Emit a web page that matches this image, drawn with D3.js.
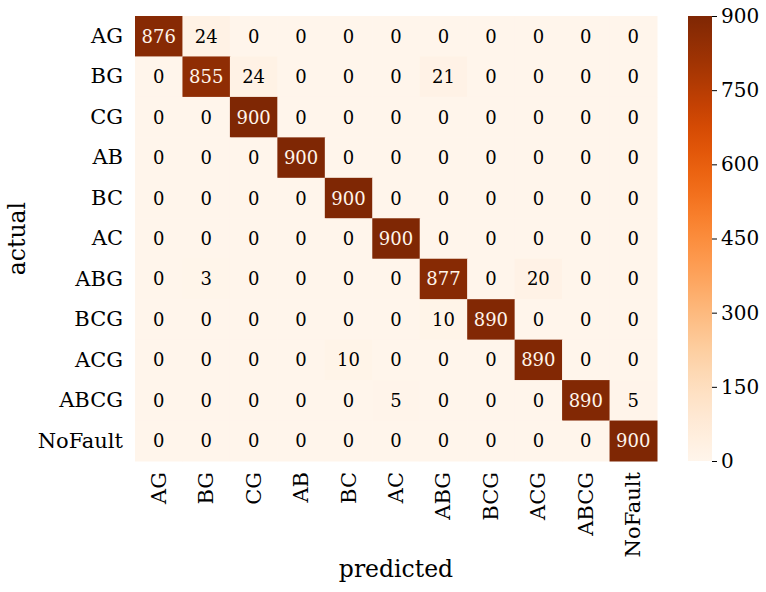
<!DOCTYPE html>
<html>
<head>
<meta charset="utf-8">
<script src="https://cdn.jsdelivr.net/npm/d3@7"></script>
<style>
  html, body { margin: 0; padding: 0; background: #fff; }
  svg text { font-family: "DejaVu Serif", serif; }
</style>
</head>
<body>
<svg id="chart" width="766" height="592"></svg>
<script>
// Fault classes (rows = actual, columns = predicted)
const classes = ["AG", "BG", "CG", "AB", "BC", "AC", "ABG", "BCG", "ACG", "ABCG", "NoFault"];

// Confusion matrix counts, one row per actual class
const rowAG      = [876, 24, 0, 0, 0, 0, 0, 0, 0, 0, 0];
const rowBG      = [0, 855, 24, 0, 0, 0, 21, 0, 0, 0, 0];
const rowCG      = [0, 0, 900, 0, 0, 0, 0, 0, 0, 0, 0];
const rowAB      = [0, 0, 0, 900, 0, 0, 0, 0, 0, 0, 0];
const rowBC      = [0, 0, 0, 0, 900, 0, 0, 0, 0, 0, 0];
const rowAC      = [0, 0, 0, 0, 0, 900, 0, 0, 0, 0, 0];
const rowABG     = [0, 3, 0, 0, 0, 0, 877, 0, 20, 0, 0];
const rowBCG     = [0, 0, 0, 0, 0, 0, 10, 890, 0, 0, 0];
const rowACG     = [0, 0, 0, 0, 10, 0, 0, 0, 890, 0, 0];
const rowABCG    = [0, 0, 0, 0, 0, 5, 0, 0, 0, 890, 5];
const rowNoFault = [0, 0, 0, 0, 0, 0, 0, 0, 0, 0, 900];

const matrix = [rowAG, rowBG, rowCG, rowAB, rowBC, rowAC, rowABG, rowBCG, rowACG, rowABCG, rowNoFault];

// Colorbar ticks
const colorbarTicks = [0, 150, 300, 450, 600, 750, 900];

const svg = d3.select("#chart");

const plot = { left: 135, top: 16, width: 522, height: 445 };
const cbar = { left: 688, top: 16, width: 24, height: 445 };

const x = d3.scaleBand().domain(classes).range([plot.left, plot.left + plot.width]);
const y = d3.scaleBand().domain(classes).range([plot.top, plot.top + plot.height]);
const color = d3.scaleSequential(d3.interpolateOranges).domain([0, 900]);

const cells = [];
matrix.forEach((row, i) => row.forEach((v, j) => cells.push({ actual: classes[i], predicted: classes[j], value: v })));

svg.append("g").selectAll("rect")
  .data(cells)
  .join("rect")
  .attr("x", d => x(d.predicted))
  .attr("y", d => y(d.actual))
  .attr("width", x.bandwidth() + 0.5)
  .attr("height", y.bandwidth() + 0.5)
  .attr("fill", d => color(d.value));

svg.append("g").selectAll("text")
  .data(cells)
  .join("text")
  .attr("x", d => x(d.predicted) + x.bandwidth() / 2)
  .attr("y", d => y(d.actual) + y.bandwidth() / 2)
  .attr("text-anchor", "middle")
  .attr("dominant-baseline", "central")
  .attr("font-size", 18)
  .attr("fill", d => d.value > 450 ? "#fff5eb" : "#000")
  .text(d => d.value);

// Axes
const yAxis = d3.axisLeft(y).tickSize(0).tickPadding(12);
const gy = svg.append("g").attr("transform", `translate(${plot.left},0)`).call(yAxis);
gy.select(".domain").remove();
gy.selectAll("text").attr("font-size", 21).attr("font-family", "DejaVu Serif").attr("fill", "#000");

const xAxis = d3.axisBottom(x).tickSize(0).tickPadding(0);
const gx = svg.append("g").attr("transform", `translate(0,${plot.top + plot.height})`).call(xAxis);
gx.select(".domain").remove();
gx.selectAll("text")
  .attr("font-size", 21).attr("font-family", "DejaVu Serif").attr("fill", "#000")
  .attr("text-anchor", "end")
  .attr("dy", null).attr("y", 0)
  .attr("transform", "translate(0,11) rotate(-90)")
  .attr("dominant-baseline", "central");

// Axis titles
svg.append("text")
  .attr("x", plot.left + plot.width / 2)
  .attr("y", 577)
  .attr("text-anchor", "middle")
  .attr("font-size", 23.5)
  .text("predicted");

svg.append("text")
  .attr("transform", `translate(25,${plot.top + plot.height / 2}) rotate(-90)`)
  .attr("text-anchor", "middle")
  .attr("font-size", 23.5)
  .text("actual");

// Colorbar
const defs = svg.append("defs");
const grad = defs.append("linearGradient").attr("id", "cbar-grad")
  .attr("x1", 0).attr("y1", 1).attr("x2", 0).attr("y2", 0);
d3.range(0, 1.0001, 0.05).forEach(t => {
  grad.append("stop").attr("offset", t).attr("stop-color", color(t * 900));
});
svg.append("rect")
  .attr("x", cbar.left).attr("y", cbar.top)
  .attr("width", cbar.width).attr("height", cbar.height)
  .attr("fill", "url(#cbar-grad)");

const cy = d3.scaleLinear().domain([0, 900]).range([cbar.top + cbar.height, cbar.top]);
const cAxis = d3.axisRight(cy).tickValues(colorbarTicks).tickSize(5).tickPadding(4);
const gc = svg.append("g").attr("transform", `translate(${cbar.left + cbar.width},0)`).call(cAxis);
gc.select(".domain").remove();
gc.selectAll("line").attr("stroke", "#000").attr("stroke-width", 1);
gc.selectAll("text").attr("font-size", 20).attr("font-family", "DejaVu Serif").attr("fill", "#000");
</script>
</body>
</html>
